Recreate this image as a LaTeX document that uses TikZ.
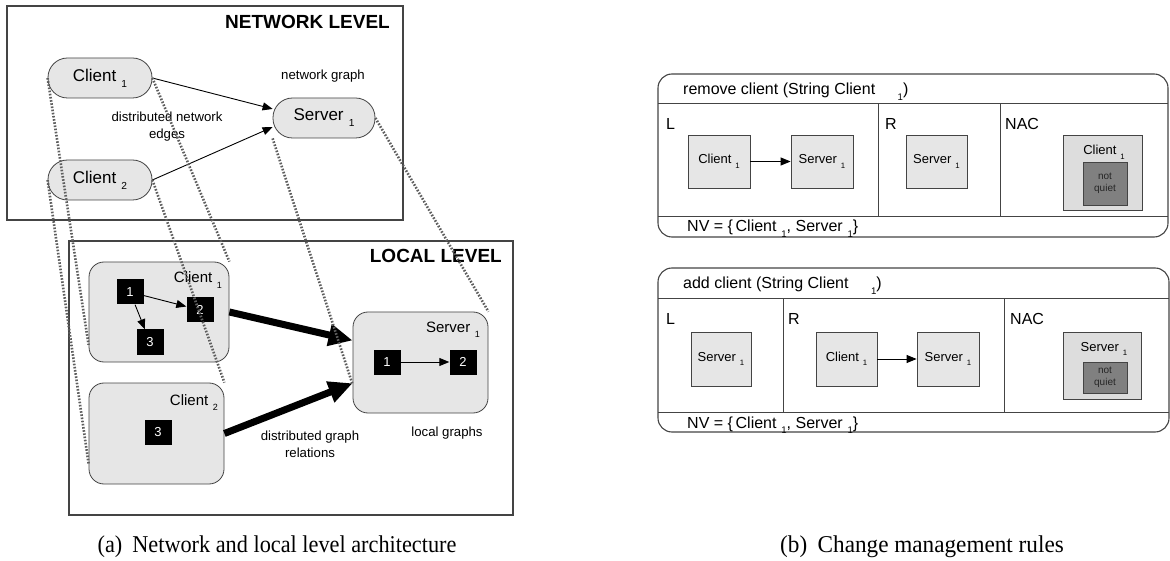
\documentclass[tikz,border=0pt]{standalone}
\usepackage{fontspec}
\usepackage{graphicx}
\setmainfont{Liberation Serif}
\newfontfamily\arialf{Liberation Sans}
\usetikzlibrary{arrows.meta,calc}
\definecolor{nodegray}{HTML}{E6E6E6}
\definecolor{nacgray}{HTML}{DDDDDD}
\definecolor{darkbox}{HTML}{808080}
\definecolor{dotgray}{HTML}{5E5E5E}
\definecolor{framec}{HTML}{444444}
\newcommand\sbs[1]{\hspace{0.3em}\raisebox{-0.35em}{\scalebox{0.6}{#1}}}
\tikzset{
  lvl/.style={draw=framec, line width=1.2pt},
  lvltitle/.style={font=\arialf\bfseries\fontsize{19}{22}\selectfont, anchor=base east, inner sep=0pt},
  stad/.style={draw=framec, fill=nodegray, line width=0.8pt, rounded corners=19.5pt, minimum width=104pt, minimum height=40pt, font=\arialf\fontsize{17}{20}\selectfont, inner sep=0pt},
  lgraph/.style={draw=framec, fill=nodegray, line width=0.8pt, rounded corners=15pt, inner sep=0pt},
  sublbl/.style={font=\arialf\fontsize{15}{18}\selectfont, anchor=base east, inner sep=0pt},
  blk/.style={fill=black, text=white, minimum width=27pt, minimum height=25pt, inner sep=0pt, font=\arialf\fontsize{13}{15}\selectfont},
  lbl/.style={font=\arialf\fontsize{13.2}{17}\selectfont, align=center, inner sep=0pt},
  corr/.style={draw=dotgray, line width=2.6pt, dash pattern=on 1.6pt off 1.6pt},
  arrthin/.style={-{Triangle[length=10pt,width=8pt]}, line width=0.9pt},
  arrthick/.style={-{Triangle[length=24pt,width=21pt]}, line width=7pt},
  rulefr/.style={draw=framec, line width=1.1pt, rounded corners=14pt},
  ruleln/.style={draw=framec, line width=1pt},
  ruletxt/.style={font=\arialf\fontsize{16}{19}\selectfont, anchor=base west, inner sep=0pt},
  gbox/.style={draw=framec, fill=nodegray, line width=0.8pt, minimum width=62pt, minimum height=53pt, inner sep=0pt, font=\arialf\fontsize{13}{15}\selectfont},
  nacbox/.style={draw=framec, fill=nacgray, line width=0.8pt, inner sep=0pt},
  nqbox/.style={draw=framec, fill=darkbox, line width=0.8pt, minimum width=44pt, inner sep=0pt, align=center, font=\arialf\fontsize{10}{12.5}\selectfont, text=black!85},
  caption/.style={font=\fontsize{23.2}{28}\selectfont, anchor=base, inner sep=0pt}
}
\begin{document}
\begin{tikzpicture}[x=1pt,y=-1pt]
\useasboundingbox (0,0) rectangle (1170,561);
\fill[white] (0,0) rectangle (1170,561);

% ---------------- network level
\draw[lvl] (7,6) rectangle (403,220);
\node[lvltitle] (nt) at (390,29) {NETWORK LEVEL};
\node[stad] (c1N) at (100,78) {Client\sbs{1}};
\node[stad] (c2N) at (100,180) {Client\sbs{2}};
\node[stad, minimum width=102pt] (sN) at (324,118) {Server\sbs{1}};
\node[lbl] (ng) at (323,76) {network graph};
\node[lbl] (dne) at (167,127) {distributed network\\edges};
\draw[arrthin] (c1N.east) -- (sN.170);
\draw[arrthin] (c2N.east) -- (sN.190);

% ---------------- local level
\draw[lvl] (69,241) rectangle (513,515);
\node[lvltitle] (lt) at (502,263) {LOCAL LEVEL};

\node[lgraph, minimum width=140pt, minimum height=100pt] (c1L) at (159,312) {};
\node[sublbl] (c1Lt) at (222,283) {Client\sbs{1}};
\node[blk] (a1) at (130,292) {1};
\node[blk] (a2) at (200,310) {2};
\node[blk] (a3) at (150,342) {3};
\draw[arrthin] (a1) -- (a2);
\draw[arrthin] (a1) -- (a3);

\node[lgraph, minimum width=135pt, minimum height=101pt] (c2L) at (156.5,433.5) {};
\node[sublbl] (c2Lt) at (218,405) {Client\sbs{2}};
\node[blk] (b3) at (158,432) {3};

\node[lgraph, minimum width=135pt, minimum height=101pt] (sL) at (420.5,362.5) {};
\node[sublbl] (sLt) at (480,332) {Server\sbs{1}};
\node[blk] (s1) at (387,362) {1};
\node[blk] (s2) at (463,362) {2};
\draw[arrthin] (s1) -- (s2);

\draw[arrthick] (c1L.east) -- (sL.162);
\draw[arrthick] (c2L.east) -- (sL.197);

\node[lbl] (dgr) at (310,444) {distributed graph\\relations};
\node[lbl] (lg) at (447,433) {local graphs};

% dotted correspondences
\draw[corr] (c1N.west) -- (c1L.205);
\draw[corr] (c2N.west) -- (c2L.204);
\draw[corr] (c1N.east) -- (c1L.north east);
\draw[corr] (c2N.east) -- (c2L.north east);
\draw[corr] (sN.south west) -- (sL.198);
\draw[corr] (sN.east) -- (sL.north east);

% ---------------- rule 1: remove client
\draw[rulefr] (658,74) rectangle (1168,237);
\draw[ruleln] (658,104) -- (1168,104);
\draw[ruleln] (658,217) -- (1168,217);
\draw[ruleln] (878,104) -- (878,217);
\draw[ruleln] (1000,104) -- (1000,217);
\node[ruletxt] (r1t) at (683,95) {remove client (String Client\hspace{1.1em}\sbs{1})};
\node[ruletxt] (r1L) at (666,130) {L};
\node[ruletxt] (r1R) at (885,130) {R};
\node[ruletxt] (r1N) at (1005,130) {NAC};
\node[gbox] (r1c) at (719,161.5) {Client\sbs{1}};
\node[gbox] (r1s) at (822,161.5) {Server\sbs{1}};
\draw[arrthin] (r1c) -- (r1s);
\node[gbox, minimum width=61pt] (r1rs) at (936.5,161.5) {Server\sbs{1}};
\node[nacbox, minimum width=79pt, minimum height=75pt] (r1nac) at (1102.5,172.5) {};
\node[font=\arialf\fontsize{13}{15}\selectfont, anchor=base, inner sep=0pt] (r1nacl) at (1104,155) {Client\sbs{1}};
\node[nqbox, minimum height=43pt] (r1nq) at (1105,183.5) {not\\quiet};
\node[ruletxt] (r1nv) at (687,232) {NV = \{\,Client\sbs{1}, Server\sbs{1}\}};

% ---------------- rule 2: add client
\draw[rulefr] (658,268) rectangle (1169,432);
\draw[ruleln] (658,299) -- (1169,299);
\draw[ruleln] (658,412) -- (1169,412);
\draw[ruleln] (783,299) -- (783,412);
\draw[ruleln] (1004,299) -- (1004,412);
\node[ruletxt] (r2t) at (683,289) {add client (String Client\hspace{1.1em}\sbs{1})};
\node[ruletxt] (r2L) at (666,325) {L};
\node[ruletxt] (r2R) at (788,325) {R};
\node[ruletxt] (r2N) at (1010,325) {NAC};
\node[gbox, minimum width=60pt, minimum height=54pt] (r2ls) at (721,359) {Server\sbs{1}};
\node[gbox, minimum width=61pt, minimum height=54pt] (r2c) at (846.5,359) {Client\sbs{1}};
\node[gbox, minimum width=62pt, minimum height=54pt] (r2s) at (948,359) {Server\sbs{1}};
\draw[arrthin] (r2c) -- (r2s);
\node[nacbox, minimum width=78pt, minimum height=67pt] (r2nac) at (1102,365.5) {};
\node[font=\arialf\fontsize{13}{15}\selectfont, anchor=base, inner sep=0pt] (r2nacl) at (1104,351) {Server\sbs{1}};
\node[nqbox, minimum height=31pt] (r2nq) at (1105,377.5) {not\\quiet};
\node[ruletxt] (r2nv) at (687,428) {NV = \{\,Client\sbs{1}, Server\sbs{1}\}};

% ---------------- captions
\node[caption] (capa) at (277,552) {\scalebox{0.96}[1.04]{(a)\hspace{0.45em}Network and local level architecture}};
\node[caption] (capb) at (922,552) {\scalebox{1}[1.04]{(b)\hspace{0.45em}Change management rules}};
\end{tikzpicture}
\end{document}
